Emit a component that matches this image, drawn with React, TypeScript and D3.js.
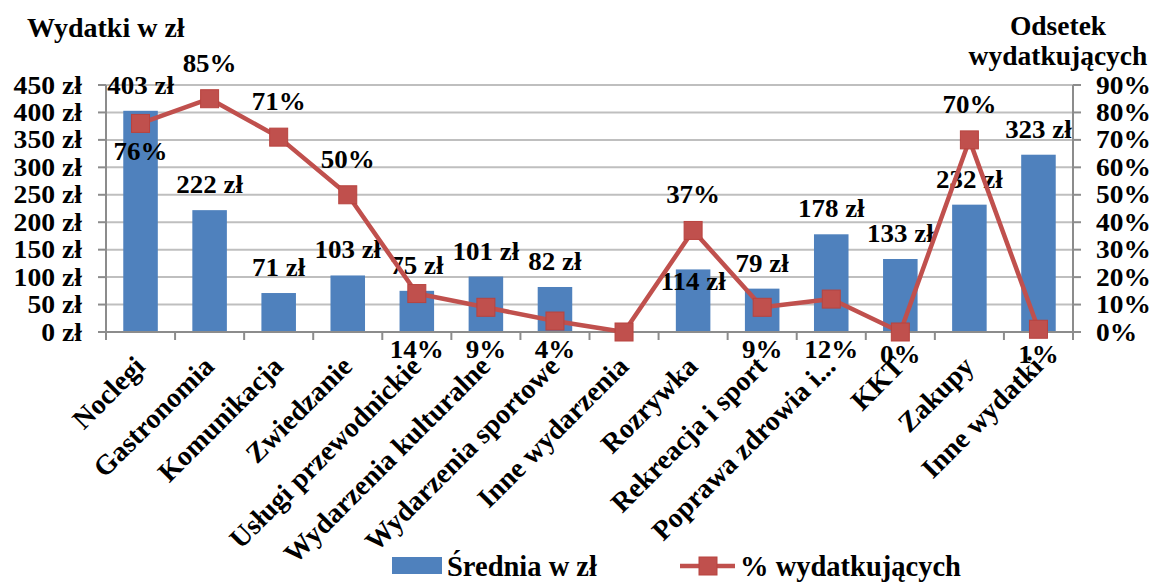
import React from "react";
import * as d3 from "d3";

const categories = [
  "Noclegi", "Gastronomia", "Komunikacja", "Zwiedzanie", "Usługi przewodnickie",
  "Wydarzenia kulturalne", "Wydarzenia sportowe", "Inne wydarzenia", "Rozrywka",
  "Rekreacja i sport", "Poprawa zdrowia i...", "KKT", "Zakupy", "Inne wydatki",
];
const avgSpend: (number | null)[] = [403, 222, 71, 103, 75, 101, 82, null, 114, 79, 178, 133, 232, 323];
const pctSpending: number[] = [76, 85, 71, 50, 14, 9, 4, 0, 37, 9, 12, 0, 70, 1];
const pctLabelShown: boolean[] = [true, true, true, true, true, true, true, false, true, true, true, true, true, true];
const pctLabelAbove: boolean[] = [false, true, true, true, false, false, false, false, true, false, false, false, true, false];
const leftTicks = [0, 50, 100, 150, 200, 250, 300, 350, 400, 450];
const rightTicks = [0, 10, 20, 30, 40, 50, 60, 70, 80, 90];

const W = 1159, H = 582;
const L = 106, R = 1073, T = 85, B = 332;
const BAR = "#4f81bd";
const LINE = "#c0504d";
const FONT = "'Liberation Serif', 'Times New Roman', serif";

export default function App() {
  const x = d3.scaleBand<string>().domain(categories).range([L, R]).paddingInner(0.5).paddingOuter(0.25);
  const band = d3.scaleBand<string>().domain(categories).range([L, R]);
  const yL = d3.scaleLinear().domain([0, 450]).range([B, T]);
  const yR = d3.scaleLinear().domain([0, 90]).range([B, T]);
  const cx = (c: string) => (band(c) as number) + band.bandwidth() / 2;

  const lineGen = d3.line<number>().x((_, i) => cx(categories[i])).y((d) => yR(d));

  const txt = { fontFamily: FONT, fontWeight: 700, fontSize: 26.5, fill: "#000" } as const;
  const tick = { fontFamily: FONT, fontWeight: 700, fontSize: 24.5, fill: "#000" } as const;

  return (
    <svg width={W} height={H} style={{ position: "absolute", left: 0, top: 0, background: "#fff" }}>
      {/* gridlines */}
      {leftTicks.slice(1).map((t) => (
        <line key={"g" + t} x1={L} x2={R} y1={yL(t)} y2={yL(t)} stroke="#bfbfbf" strokeWidth={2} />
      ))}
      {/* bars */}
      {categories.map((c, i) =>
        avgSpend[i] == null ? null : (
          <rect key={"b" + i} x={x(c)} width={x.bandwidth()} y={yL(avgSpend[i] as number)}
            height={B - yL(avgSpend[i] as number)} fill={BAR} />
        )
      )}
      {/* axes */}
      <line x1={L} x2={L} y1={T} y2={B} stroke="#8c8c8c" strokeWidth={2} />
      <line x1={R} x2={R} y1={T} y2={B} stroke="#8c8c8c" strokeWidth={2} />
      <line x1={L - 8} x2={R + 8} y1={B} y2={B} stroke="#8c8c8c" strokeWidth={2} />
      {leftTicks.map((t) => (
        <g key={"lt" + t}>
          <line x1={L - 8} x2={L} y1={yL(t)} y2={yL(t)} stroke="#8c8c8c" strokeWidth={2} />
          <text transform={`translate(82,${yL(t) + 8.5}) scale(1.13,1)`} textAnchor="end" {...tick}>{`${t} zł`}</text>
        </g>
      ))}
      {rightTicks.map((t) => (
        <g key={"rt" + t}>
          <line x1={R} x2={R + 8} y1={yR(t)} y2={yR(t)} stroke="#8c8c8c" strokeWidth={2} />
          <text transform={`translate(1096,${yR(t) + 8.5}) scale(1.12,1)`} textAnchor="start" {...tick}>{`${t}%`}</text>
        </g>
      ))}
      {d3.range(categories.length + 1).map((i) => {
        const xx = L + i * band.bandwidth();
        return <line key={"xt" + i} x1={xx} x2={xx} y1={B} y2={B + 8} stroke="#8c8c8c" strokeWidth={2} />;
      })}
      {/* category labels */}
      {categories.map((c) => (
        <text key={"cl" + c} transform={`translate(${cx(c) + 6},${B + 36}) rotate(-45)`} textAnchor="end" {...txt} fontSize={28}>
          {c}
        </text>
      ))}
      {/* bar labels */}
      {categories.map((c, i) => {
        const v = avgSpend[i];
        if (v == null) return null;
        const y = c === "Rozrywka" ? yL(v) + 21 : yL(v) - 17;
        return (
          <text key={"bl" + i} transform={`translate(${cx(c)},${y}) scale(1.08,1)`} textAnchor="middle" {...txt} fontSize={25}>{`${v} zł`}</text>
        );
      })}
      {/* line */}
      <path d={lineGen(pctSpending) as string} fill="none" stroke={LINE} strokeWidth={4.5} strokeLinejoin="round" />
      {pctSpending.map((v, i) => (
        <rect key={"m" + i} x={cx(categories[i]) - 9} y={yR(v) - 9} width={18} height={18} fill={LINE} stroke="#b8433f" strokeWidth={1} />
      ))}
      {pctSpending.map((v, i) => {
        if (!pctLabelShown[i]) return null;
        let y: number;
        if (pctLabelAbove[i]) y = yR(v) - 27;
        else if (v >= 20) y = yR(v) + 37;
        else y = Math.min(Math.max(yR(v) + 37, 358), 363);
        return (
          <text key={"pl" + i} transform={`translate(${cx(categories[i])},${y}) scale(1.08,1)`} textAnchor="middle" {...txt} fontSize={25}>{`${v}%`}</text>
        );
      })}
      {/* titles */}
      <text x={27} y={37} {...txt} fontSize={28}>Wydatki w zł</text>
      <text x={1058} y={35} textAnchor="middle" {...txt} fontSize={27.5}>Odsetek</text>
      <text x={1058} y={65} textAnchor="middle" {...txt} fontSize={27.5}>wydatkujących</text>
      {/* legend */}
      <rect x={392} y={557} width={50} height={17} fill={BAR} />
      <text x={447} y={576} {...txt} fontSize={28.5}>Średnia w zł</text>
      <line x1={680} x2={735} y1={566} y2={566} stroke={LINE} strokeWidth={4.5} />
      <rect x={699} y={557} width={18} height={18} fill={LINE} stroke="#b8433f" strokeWidth={1} />
      <text x={740} y={576} {...txt} fontSize={28.5}>% wydatkujących</text>
    </svg>
  );
}
